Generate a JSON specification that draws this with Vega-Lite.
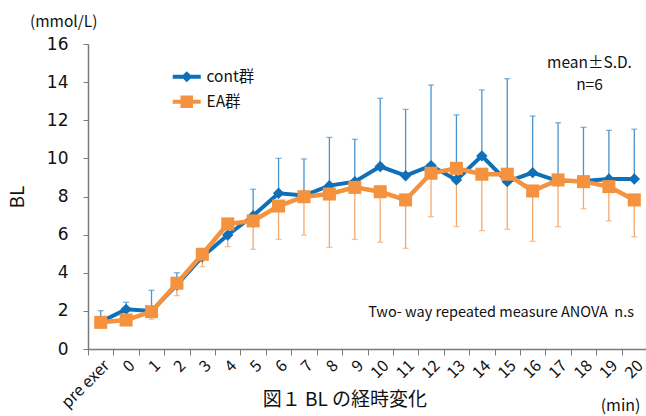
{
  "$schema": "https://vega.github.io/schema/vega-lite/v6.json",
  "autosize": "none",
  "width": 559,
  "height": 305,
  "padding": {"left": 88, "top": 44, "right": 0, "bottom": 67},
  "background": "white",
  "config": {
    "font": "Noto Sans CJK JP",
    "view": {"stroke": null},
    "axis": {"grid": false, "domainColor": "#7a7a7a", "tickColor": "#7a7a7a", "labelColor": "#111", "titleColor": "#111"},
    "text": {"font": "Noto Sans CJK JP", "color": "#111"}
  },
  "data": {"values": [
    {"t": "pre exer", "group": "cont群", "mean": 1.43, "bar": 2.01},
    {"t": "0", "group": "cont群", "mean": 2.08, "bar": 2.45},
    {"t": "1", "group": "cont群", "mean": 1.99, "bar": 3.08},
    {"t": "2", "group": "cont群", "mean": 3.36, "bar": 4.0},
    {"t": "3", "group": "cont群", "mean": 4.84, "bar": 5.2},
    {"t": "4", "group": "cont群", "mean": 5.98, "bar": 6.6},
    {"t": "5", "group": "cont群", "mean": 6.99, "bar": 8.38},
    {"t": "6", "group": "cont群", "mean": 8.17, "bar": 10.0},
    {"t": "7", "group": "cont群", "mean": 8.05, "bar": 9.97},
    {"t": "8", "group": "cont群", "mean": 8.57, "bar": 11.1},
    {"t": "9", "group": "cont群", "mean": 8.78, "bar": 11.0},
    {"t": "10", "group": "cont群", "mean": 9.57, "bar": 13.15},
    {"t": "11", "group": "cont群", "mean": 9.09, "bar": 12.57},
    {"t": "12", "group": "cont群", "mean": 9.62, "bar": 13.85},
    {"t": "13", "group": "cont群", "mean": 8.87, "bar": 12.28},
    {"t": "14", "group": "cont群", "mean": 10.13, "bar": 13.59},
    {"t": "15", "group": "cont群", "mean": 8.78, "bar": 14.18},
    {"t": "16", "group": "cont群", "mean": 9.25, "bar": 12.22},
    {"t": "17", "group": "cont群", "mean": 8.81, "bar": 11.87},
    {"t": "18", "group": "cont群", "mean": 8.81, "bar": 11.63},
    {"t": "19", "group": "cont群", "mean": 8.92, "bar": 11.47},
    {"t": "20", "group": "cont群", "mean": 8.92, "bar": 11.53},
    {"t": "pre exer", "group": "EA群", "mean": 1.40, "bar": 1.09},
    {"t": "0", "group": "EA群", "mean": 1.52, "bar": 1.26},
    {"t": "1", "group": "EA群", "mean": 1.96, "bar": 1.56},
    {"t": "2", "group": "EA群", "mean": 3.45, "bar": 2.8},
    {"t": "3", "group": "EA群", "mean": 4.97, "bar": 4.32},
    {"t": "4", "group": "EA群", "mean": 6.56, "bar": 5.37},
    {"t": "5", "group": "EA群", "mean": 6.72, "bar": 5.23},
    {"t": "6", "group": "EA群", "mean": 7.50, "bar": 5.75},
    {"t": "7", "group": "EA群", "mean": 7.99, "bar": 5.98},
    {"t": "8", "group": "EA群", "mean": 8.13, "bar": 5.33},
    {"t": "9", "group": "EA群", "mean": 8.48, "bar": 5.75},
    {"t": "10", "group": "EA群", "mean": 8.25, "bar": 5.6},
    {"t": "11", "group": "EA群", "mean": 7.82, "bar": 5.28},
    {"t": "12", "group": "EA群", "mean": 9.22, "bar": 6.94},
    {"t": "13", "group": "EA群", "mean": 9.48, "bar": 6.42},
    {"t": "14", "group": "EA群", "mean": 9.17, "bar": 6.21},
    {"t": "15", "group": "EA群", "mean": 9.17, "bar": 6.28},
    {"t": "16", "group": "EA群", "mean": 8.29, "bar": 5.65},
    {"t": "17", "group": "EA群", "mean": 8.87, "bar": 6.42},
    {"t": "18", "group": "EA群", "mean": 8.78, "bar": 7.36},
    {"t": "19", "group": "EA群", "mean": 8.52, "bar": 6.72},
    {"t": "20", "group": "EA群", "mean": 7.82, "bar": 5.89}
  ]},
  "encoding": {
    "x": {
      "field": "t", "type": "nominal", "sort": null,
      "scale": {"type": "band", "paddingInner": 0, "paddingOuter": 0,
        "domain": ["pre exer","0","1","2","3","4","5","6","7","8","9","10","11","12","13","14","15","16","17","18","19","20"]},
      "axis": {"title": "(min)", "titleFontSize": 16, "titleFontWeight": "normal", "titleX": 552, "titleY": 56, "titleAlign": "right", "titleBaseline": "middle", "titleAnchor": null,
        "labelAngle": -45, "labelFontSize": 16, "tickBand": "extent", "tickSize": 6, "labelPadding": 2, "domainWidth": 1.5}
    },
    "y": {
      "field": "mean", "type": "quantitative",
      "scale": {"domain": [0, 16], "nice": false, "zero": true},
      "axis": {"title": "BL", "titleFontSize": 19, "titleFontWeight": "normal", "titlePadding": 19, "values": [0,2,4,6,8,10,12,14,16], "labelFontSize": 17, "labelFont": "DejaVu Sans", "tickSize": 5, "labelPadding": 15, "domainWidth": 1.5}
    }
  },
  "layer": [
    {
      "transform": [{"filter": "datum.group === 'cont群'"}],
      "mark": {"type": "rule", "color": "#4A93CE", "strokeWidth": 1.3},
      "encoding": {"y2": {"field": "bar"}}
    },
    {
      "transform": [{"filter": "datum.group === 'cont群'"}],
      "mark": {"type": "tick", "color": "#4A93CE", "thickness": 1.3, "size": 6},
      "encoding": {"y": {"field": "bar", "type": "quantitative"}}
    },
    {
      "transform": [{"filter": "datum.group === 'EA群'"}],
      "mark": {"type": "rule", "color": "#F5A86C", "strokeWidth": 1.3},
      "encoding": {"y2": {"field": "bar"}}
    },
    {
      "transform": [{"filter": "datum.group === 'EA群'"}],
      "mark": {"type": "tick", "color": "#F5A86C", "thickness": 1.3, "size": 6},
      "encoding": {"y": {"field": "bar", "type": "quantitative"}}
    },
    {
      "transform": [{"filter": "datum.group === 'cont群'"}],
      "mark": {"type": "line", "strokeWidth": 4},
      "encoding": {
        "color": {
          "field": "group", "type": "nominal",
          "scale": {"domain": ["cont群", "EA群"], "range": ["#0F6FB9", "#F4923F"]},
          "legend": {
            "title": null, "orient": "none", "legendX": 91, "legendY": 25, "padding": 0,
            "symbolSize": 196, "labelFontSize": 15.5, "labelOffset": 12, "rowPadding": 8, "labelColor": "#111",
            "encode": {"symbols": {"update": {
              "shape": {"signal": "datum.value === 'cont群' ? 'M-2,-0.28H2V0.28H-2Z M0,-0.8L0.8,0L0,0.8L-0.8,0Z' : 'M-2,-0.3H2V0.3H-2Z M-0.9,-0.9H0.9V0.9H-0.9Z'"},
              "fill": {"signal": "datum.value === 'cont群' ? '#0F6FB9' : '#F4923F'"},
              "fillOpacity": {"value": 1},
              "strokeWidth": {"value": 0}
            }}}
          }
        }
      }
    },
    {
      "transform": [{"filter": "datum.group === 'cont群'"}],
      "mark": {"type": "point", "shape": "diamond", "filled": true, "opacity": 1, "size": 130, "color": "#0F6FB9"},
      "encoding": {}
    },
    {
      "transform": [{"filter": "datum.group === 'EA群'"}],
      "mark": {"type": "line", "strokeWidth": 4.5},
      "encoding": {"color": {"field": "group", "type": "nominal"}}
    },
    {
      "transform": [{"filter": "datum.group === 'EA群'"}],
      "mark": {"type": "point", "shape": "square", "filled": true, "opacity": 1, "size": 170, "color": "#F4923F"},
      "encoding": {}
    },
    {
      "transform": [{"filter": "datum.group === 'cont群' && datum.t === '18'"}],
      "mark": {"type": "text", "fontSize": 15.5, "dx": 6, "clip": false},
      "encoding": {"y": {"datum": 15.0}, "text": {"value": "mean±S.D."}}
    },
    {
      "transform": [{"filter": "datum.group === 'cont群' && datum.t === '18'"}],
      "mark": {"type": "text", "fontSize": 15.5, "dx": 6, "clip": false},
      "encoding": {"y": {"datum": 13.85}, "text": {"value": "n=6"}}
    },
    {
      "transform": [{"filter": "datum.group === 'cont群' && datum.t === '10'"}],
      "mark": {"type": "text", "fontSize": 14.5, "align": "left", "dx": -12, "clip": false},
      "encoding": {"y": {"datum": 1.89}, "text": {"value": "Two- way repeated measure ANOVA\u00a0\u00a0n.s"}}
    },
    {
      "transform": [{"filter": "datum.group === 'cont群' && datum.t === 'pre exer'"}],
      "mark": {"type": "text", "fontSize": 15.5, "dx": -37, "clip": false},
      "encoding": {"y": {"datum": 17.15}, "text": {"value": "(mmol/L)"}}
    },
    {
      "transform": [{"filter": "datum.group === 'cont群' && datum.t === '9'"}],
      "mark": {"type": "text", "fontSize": 19, "dx": -10, "clip": false},
      "encoding": {"y": {"datum": -2.7}, "text": {"value": "図１ BL の経時変化"}}
    }
  ]
}
